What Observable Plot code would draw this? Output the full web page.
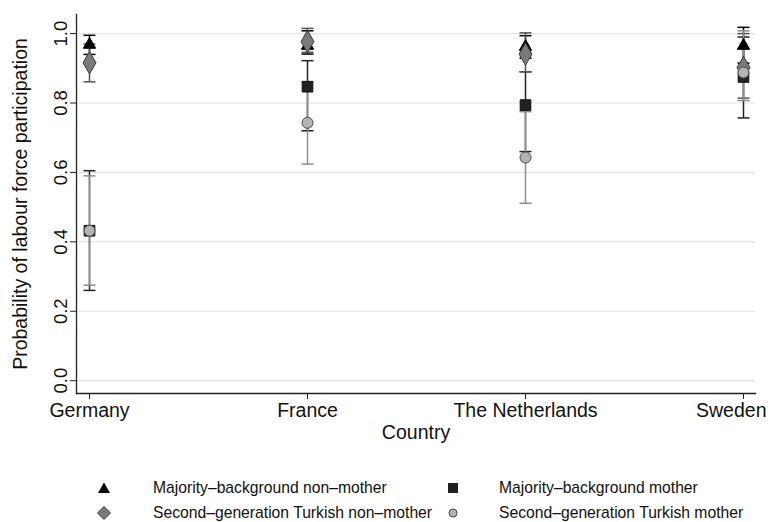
<!DOCTYPE html>
<html>
<head>
<meta charset="utf-8">
<script src="https://cdn.jsdelivr.net/npm/d3@7"></script>
<script src="https://cdn.jsdelivr.net/npm/@observablehq/plot@0.6"></script>
<style>
  html, body { margin: 0; padding: 0; background: #fff; }
  body { width: 768px; height: 522px; overflow: hidden; font-family: "Liberation Sans", Arial, sans-serif; }
  #legend { position: relative; height: 67px; font-size: 15.7px; color: #111; }
  .item { position: absolute; display: flex; align-items: center; white-space: nowrap; }
</style>
</head>
<body>
<div id="chart"></div>
<div id="legend"></div>
<script>
const countries = ["Germany", "France", "The Netherlands", "Sweden"];
const seriesNames = [
  "Majority\u2013background non\u2013mother",
  "Majority\u2013background mother",
  "Second\u2013generation Turkish non\u2013mother",
  "Second\u2013generation Turkish mother"
];
// estimates and 95% CIs per series, in country order
const triEst = [0.968, 0.965, 0.962, 0.965];
const triLo  = [0.940, 0.941, 0.929, 0.915];
const triHi  = [0.995, 1.008, 0.994, 1.018];
const sqEst  = [0.432, 0.847, 0.794, 0.875];
const sqLo   = [0.260, 0.720, 0.660, 0.757];
const sqHi   = [0.605, 0.922, 0.890, 0.990];
const diaEst = [0.916, 0.977, 0.941, 0.902];
const diaLo  = [0.861, 0.946, 0.890, 0.814];
const diaHi  = [0.970, 1.015, 1.002, 1.000];
const cirEst = [0.432, 0.743, 0.643, 0.888];
const cirLo  = [0.275, 0.624, 0.511, 0.807];
const cirHi  = [0.590, 0.860, 0.775, 1.008];
const yTicks = [0, 0.2, 0.4, 0.6, 0.8, 1.0];

const styles = [
  {symbol: "triangle", fill: "#000", stroke: "#000", line: "#000", r: 4.6},
  {symbol: "square", fill: "#222", stroke: "#111", line: "#222", r: 6},
  {symbol: "diamond", fill: "#7a7a7a", stroke: "#3a3a3a", line: "#555", r: 6.8},
  {symbol: "circle", fill: "#b3b3b3", stroke: "#4a4a4a", line: "#8c8c8c", r: 5.5}
];
const sets = [
  [triEst, triLo, triHi], [sqEst, sqLo, sqHi], [diaEst, diaLo, diaHi], [cirEst, cirLo, cirHi]
];
const rows = [];
sets.forEach(([e, lo, hi], s) => countries.forEach((c, i) => rows.push({country: c, s, est: e[i], lo: lo[i], hi: hi[i]})));

// horizontal cap symbol for error bars
const capSymbol = {draw(ctx) { ctx.moveTo(-6, 0); ctx.lineTo(6, 0); }};

const font = "Liberation Sans, Arial, sans-serif";
const marks = [
  Plot.ruleY(yTicks, {y: d => d, stroke: "#e4e4e4", strokeWidth: 1.2}),
  Plot.frame({anchor: "left", stroke: "#222", strokeWidth: 1.3}),
  Plot.frame({anchor: "bottom", stroke: "#222", strokeWidth: 1.3}),
  Plot.axisY(yTicks, {tickSize: 6, tickFormat: () => "", stroke: "#222"}),
  Plot.text(yTicks, {y: d => d, text: d => d.toFixed(1), frameAnchor: "left", textAnchor: "middle", dx: -15, rotate: -90, fontSize: 18.5, fill: "#111"}),
  Plot.axisX({tickSize: 6, tickFormat: () => "", stroke: "#222", label: null}),
  Plot.text(countries.slice(0, 3), {x: d => d, text: d => d, frameAnchor: "bottom", lineAnchor: "top", dy: 10, fontSize: 19.5, fill: "#111"}),
  Plot.text(countries.slice(3), {x: d => d, text: d => d, frameAnchor: "bottom", lineAnchor: "top", textAnchor: "end", dy: 10, dx: 23, fontSize: 19.5, fill: "#111"}),
  Plot.text(["Probability of labour force participation"], {frameAnchor: "left", textAnchor: "middle", dx: -56, rotate: -90, fontSize: 19.5, fill: "#111"}),
  Plot.text(["Country"], {frameAnchor: "bottom", dy: 45, fontSize: 19.5, fill: "#111"})
];
styles.forEach((st, s) => {
  const d = rows.filter(r => r.s === s);
  marks.push(Plot.ruleX(d, {x: "country", y1: "lo", y2: "hi", stroke: st.line, strokeWidth: 1.5}));
  marks.push(Plot.dot(d, {x: "country", y: "lo", symbol: () => capSymbol, fill: "none", stroke: st.line, strokeWidth: 1.5}));
  marks.push(Plot.dot(d, {x: "country", y: "hi", symbol: () => capSymbol, fill: "none", stroke: st.line, strokeWidth: 1.5}));
});
styles.forEach((st, s) => {
  const d = rows.filter(r => r.s === s);
  marks.push(Plot.dot(d, {x: "country", y: "est", symbol: () => st.symbol, r: st.r, fill: st.fill, stroke: st.stroke, strokeWidth: 1}));
});

const chart = Plot.plot({
  width: 768,
  height: 455,
  marginLeft: 76,
  marginRight: 13,
  marginTop: 14,
  marginBottom: 62,
  style: {fontFamily: font, background: "#fff", overflow: "visible"},
  x: {type: "point", domain: countries, padding: 0.055, label: null, axis: null},
  y: {domain: [-0.037, 1.055], axis: null},
  symbol: {type: "identity"},
  marks
});
document.getElementById("chart").appendChild(chart);

// legend
const legend = document.getElementById("legend");
const pos = [[104, 153, 33], [453, 499, 33], [104, 153, 58], [453, 499, 58]];
const symPath = {
  triangle: '<path d="M7,1.5 L13,12 L1,12 Z" fill="#000"/>',
  square: '<rect x="2" y="2" width="10" height="10" fill="#222"/>',
  diamond: '<path d="M7,0.5 L13.5,7 L7,13.5 L0.5,7 Z" fill="#7a7a7a" stroke="#3a3a3a"/>',
  circle: '<circle cx="7" cy="7" r="4" fill="#b3b3b3" stroke="#4a4a4a"/>'
};
styles.forEach((st, i) => {
  const [sx, tx, cy] = pos[i];
  const sym = document.createElement("div");
  sym.className = "item";
  sym.style.left = (sx - 7) + "px";
  sym.style.top = (cy - 7) + "px";
  sym.innerHTML = '<svg width="14" height="14">' + symPath[st.symbol] + '</svg>';
  legend.appendChild(sym);
  const t = document.createElement("div");
  t.className = "item";
  t.style.left = tx + "px";
  t.style.top = (cy - 10) + "px";
  t.style.height = "20px";
  t.textContent = seriesNames[i];
  legend.appendChild(t);
});
</script>
</body>
</html>
